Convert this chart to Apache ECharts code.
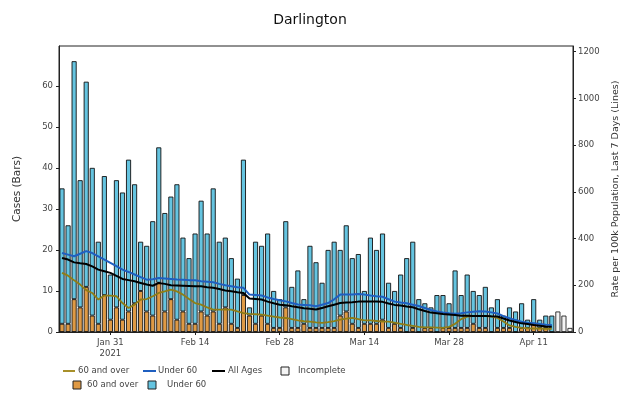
<!DOCTYPE html>
<html><head><meta charset="utf-8">
<script src="https://cdn.jsdelivr.net/npm/echarts@6/dist/echarts.min.js"></script>
<style>html,body{margin:0;padding:0;background:#fff}#c{width:620px;height:393px}</style>
</head><body><div id="c"></div>
<script>
const dates = ['Jan 23','Jan 24','Jan 25','Jan 26','Jan 27','Jan 28','Jan 29','Jan 30','Jan 31',
'Feb 1','Feb 2','Feb 3','Feb 4','Feb 5','Feb 6','Feb 7','Feb 8','Feb 9','Feb 10','Feb 11','Feb 12','Feb 13','Feb 14',
'Feb 15','Feb 16','Feb 17','Feb 18','Feb 19','Feb 20','Feb 21','Feb 22','Feb 23','Feb 24','Feb 25','Feb 26','Feb 27','Feb 28',
'Mar 1','Mar 2','Mar 3','Mar 4','Mar 5','Mar 6','Mar 7','Mar 8','Mar 9','Mar 10','Mar 11','Mar 12','Mar 13','Mar 14',
'Mar 15','Mar 16','Mar 17','Mar 18','Mar 19','Mar 20','Mar 21','Mar 22','Mar 23','Mar 24','Mar 25','Mar 26','Mar 27','Mar 28',
'Mar 29','Mar 30','Mar 31','Apr 1','Apr 2','Apr 3','Apr 4','Apr 5','Apr 6','Apr 7','Apr 8','Apr 9','Apr 10','Apr 11',
'Apr 12','Apr 13','Apr 14','Apr 15','Apr 16','Apr 17'];
const tickDates = ['Jan 31','Feb 14','Feb 28','Mar 14','Mar 28','Apr 11'];
const tickLabels = ['Jan 31\n2021','Feb 14','Feb 28','Mar 14','Mar 28','Apr 11'];
const leftTicks = [0,10,20,30,40,50,60];
const rightTicks = [0,200,400,600,800,1000,1200];

const over60Cases = [2,2,8,6,11,4,2,9,3,6,3,5,7,10,5,4,12,5,8,3,5,2,2,5,4,5,2,6,2,1,9,4,2,4,2,1,1,6,1,1,2,1,1,1,1,1,4,5,2,1,2,2,2,3,1,2,1,0,1,0,1,1,0,1,1,1,1,1,2,1,1,0,1,1,1,0,1,1,2,1,1,0];
const under60Cases = [33,24,58,31,50,36,20,29,11,31,31,37,29,12,16,23,33,24,25,33,18,16,22,27,20,30,20,17,16,12,33,2,20,17,22,9,7,21,10,14,6,20,16,11,19,21,16,21,16,18,8,21,18,21,11,8,13,18,21,8,6,5,9,8,6,14,8,13,8,8,10,6,7,3,5,5,6,2,6,2,3,4];
const incompleteCases = [5,4,1];

const rateOver60 = [253,241,221,203,179,167,139,156,156,153,124,103,117,139,141,153,167,174,181,174,160,141,124,117,105,96,96,96,96,88,81,78,76,74,70,66,62,60,55,50,46,44,41,39,42,47,53,57,60,55,50,50,47,44,44,40,35,30,26,22,20,20,19,18,22,35,55,66,68,68,68,66,60,45,28,22,18,16,15,15,14,14];
const rateUnder60 = [338,331,324,335,346,338,324,310,296,282,267,257,246,235,224,226,231,229,227,225,224,222,221,217,215,213,206,200,196,192,189,160,158,156,148,141,136,131,124,118,116,114,110,117,124,140,160,160,160,163,160,156,153,151,140,130,126,123,117,111,103,94,88,83,80,78,80,84,87,89,88,84,79,68,59,51,44,40,37,34,31,30];
const rateAll = [317,310,298,294,291,281,267,260,253,240,227,222,217,210,203,198,210,206,200,199,198,197,196,196,192,189,184,178,174,170,167,143,141,139,130,123,117,115,110,106,102,99,96,103,110,117,124,126,127,130,130,130,130,129,122,116,113,109,106,97,90,83,80,77,75,73,70,70,68,69,69,67,66,58,49,43,37,34,30,27,24,23];

const nInc = incompleteCases.length;
const pad = (arr) => arr.concat(new Array(nInc).fill(null));
const incData = new Array(dates.length - nInc).fill(null).concat(incompleteCases);

const FONT = 'DejaVu Sans';
const cOrange = '#df9a45', cBlue = '#65c4e0', cLineBlue = '#1f5fc0', cOlive = '#8f7d16';
const chart = echarts.init(document.getElementById('c'), null, {renderer: 'canvas'});
const isTick = (idx, v) => tickDates.indexOf(v) >= 0;

const barBase = {type: 'bar', stack: 'cases', barWidth: '84%', yAxisIndex: 0};

chart.setOption({
  animation: false,
  backgroundColor: '#fff',
  textStyle: {fontFamily: FONT},
  title: {text: 'Darlington', left: 'center', top: 8,
    textStyle: {fontFamily: FONT, fontSize: 14, fontWeight: 'normal', color: '#111'}},
  grid: {left: 59, right: 47, top: 46, bottom: 61, show: true, borderColor: '#222', borderWidth: 1,
    backgroundColor: 'transparent', containLabel: false, outerBoundsMode: 'none'},
  xAxis: {type: 'category', data: dates, boundaryGap: true,
    axisLine: {show: true, lineStyle: {color: '#222'}},
    axisTick: {show: true, alignWithLabel: true, interval: isTick, length: 3, lineStyle: {color: '#222'}},
    axisLabel: {interval: isTick, formatter: v => tickLabels[tickDates.indexOf(v)], fontSize: 8.5, color: '#444', margin: 5, lineHeight: 11, fontFamily: FONT},
    splitLine: {show: false}},
  yAxis: [
    {type: 'value', min: 0, max: 69.7, interval: 10, position: 'left',
      name: 'Cases (Bars)', nameLocation: 'middle', nameGap: 36,
      nameTextStyle: {fontSize: 10.5, color: '#333', fontFamily: FONT},
      axisLine: {show: true, lineStyle: {color: '#222'}},
      axisTick: {show: true, length: 3, lineStyle: {color: '#222'}},
      axisLabel: {formatter: v => leftTicks.indexOf(v) >= 0 ? String(v) : '', fontSize: 8.5, color: '#444', margin: 6, showMaxLabel: false, fontFamily: FONT},
      splitLine: {show: false}},
    {type: 'value', min: 0, max: 1224, interval: 200, position: 'right',
      name: 'Rate per 100k Population, Last 7 Days (Lines)', nameLocation: 'middle', nameGap: 38,
      nameRotate: 90,
      nameTextStyle: {fontSize: 9.5, color: '#333', fontFamily: FONT},
      axisLine: {show: true, lineStyle: {color: '#222'}},
      axisTick: {show: true, length: 3, lineStyle: {color: '#222'}},
      axisLabel: {formatter: v => rightTicks.indexOf(v) >= 0 ? String(v) : '', fontSize: 8.5, color: '#444', margin: 5, showMaxLabel: false, fontFamily: FONT},
      splitLine: {show: false}}
  ],
  series: [
    Object.assign({}, barBase, {name: 'bar60', data: pad(over60Cases), itemStyle: {color: cOrange, borderColor: '#111', borderWidth: 0.9}}),
    Object.assign({}, barBase, {name: 'barU60', data: pad(under60Cases), itemStyle: {color: cBlue, borderColor: '#111', borderWidth: 0.9}}),
    Object.assign({}, barBase, {name: 'barInc', data: incData, itemStyle: {color: '#f4f4f4', borderColor: '#222', borderWidth: 0.9}}),
    {name: 'line60', type: 'line', yAxisIndex: 1, data: pad(rateOver60), showSymbol: false, symbol: 'none',
      lineStyle: {color: cOlive, width: 1.8}, z: 5},
    {name: 'lineU60', type: 'line', yAxisIndex: 1, data: pad(rateUnder60), showSymbol: false, symbol: 'none',
      lineStyle: {color: cLineBlue, width: 2}, z: 6},
    {name: 'lineAll', type: 'line', yAxisIndex: 1, data: pad(rateAll), showSymbol: false, symbol: 'none',
      lineStyle: {color: '#000', width: 2}, z: 7}
  ],
  graphic: [
    {type: 'line', shape: {x1: 63, y1: 371, x2: 75, y2: 371}, style: {stroke: '#a8902a', lineWidth: 2}},
    {type: 'text', x: 78, y: 371, style: {text: '60 and over', fontSize: 8.5, fontFamily: FONT, fill: '#444', verticalAlign: 'middle'}},
    {type: 'line', shape: {x1: 143, y1: 371, x2: 156, y2: 371}, style: {stroke: cLineBlue, lineWidth: 2}},
    {type: 'text', x: 158, y: 371, style: {text: 'Under 60', fontSize: 8.5, fontFamily: FONT, fill: '#444', verticalAlign: 'middle'}},
    {type: 'line', shape: {x1: 212, y1: 371, x2: 225, y2: 371}, style: {stroke: '#000', lineWidth: 2}},
    {type: 'text', x: 228, y: 371, style: {text: 'All Ages', fontSize: 8.5, fontFamily: FONT, fill: '#444', verticalAlign: 'middle'}},
    {type: 'rect', shape: {x: 281, y: 367, width: 8, height: 8}, style: {fill: '#f4f4f4', stroke: '#222', lineWidth: 1}},
    {type: 'text', x: 298, y: 371, style: {text: 'Incomplete', fontSize: 8.5, fontFamily: FONT, fill: '#444', verticalAlign: 'middle'}},
    {type: 'rect', shape: {x: 73, y: 381, width: 8, height: 8}, style: {fill: cOrange, stroke: '#222', lineWidth: 1}},
    {type: 'text', x: 87, y: 385, style: {text: '60 and over', fontSize: 8.5, fontFamily: FONT, fill: '#444', verticalAlign: 'middle'}},
    {type: 'rect', shape: {x: 148, y: 381, width: 8, height: 8}, style: {fill: cBlue, stroke: '#222', lineWidth: 1}},
    {type: 'text', x: 167, y: 385, style: {text: 'Under 60', fontSize: 8.5, fontFamily: FONT, fill: '#444', verticalAlign: 'middle'}}
  ]
});
</script></body></html>
